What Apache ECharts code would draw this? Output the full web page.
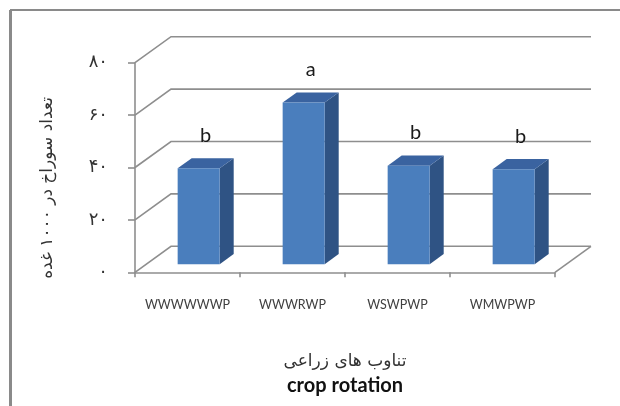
<!DOCTYPE html>
<html>
<head>
<meta charset="utf-8">
<script src="https://cdn.jsdelivr.net/npm/echarts@6/dist/echarts.min.js"></script>
<style>html,body{margin:0;padding:0;background:#fff}#c{width:620px;height:406px}</style>
</head>
<body>
<div id="c"></div>
<script>
const categories = ['WWWWWWP', 'WWWRWP', 'WSWPWP', 'WMWPWP'];
const values = [36.6, 61.7, 37.6, 36.3];
const letters = ['b', 'a', 'b', 'b'];
const yTicks = [0, 20, 40, 60, 80];
const yTickLabels = ['۰', '۲۰', '۴۰', '۶۰', '۸۰'];
const yTitle = 'تعداد سوراخ در ۱۰۰۰ غده';
const xTitleFa = 'تناوب های زراعی';
const xTitleEn = 'crop rotation';

// 3D look (style only)
const WALL_DX = 36, WALL_DY = 26;      // depth of the chart box
const BAR_FRONT = 0.31, BAR_BACK = 0.70; // bar depth position within box
const GRID_COLOR = '#8e8e8e';

const chart = echarts.init(document.getElementById('c'), null, {renderer: 'canvas'});

function wallsItem(params, api) {
  const cs = params.coordSys;
  const y = api.coord([0, api.value(1)])[1];
  const x0 = cs.x, x1 = cs.x + cs.width;
  const children = [{
    type: 'polyline',
    shape: {points: [[x0, y], [x0 + WALL_DX, y - WALL_DY], [x1 + WALL_DX, y - WALL_DY]]},
    style: {stroke: GRID_COLOR, lineWidth: 1.6, fill: null}
  }];
  if (api.value(1) === 0) {
    children.push({
      type: 'line',
      shape: {x1: x1, y1: y, x2: x1 + WALL_DX, y2: y - WALL_DY},
      style: {stroke: GRID_COLOR, lineWidth: 1.6}
    });
  }
  return {type: 'group', children: children};
}

function barItem(params, api) {
  const i = api.value(0);
  const v = api.value(1);
  const base = api.coord([i, 0]);
  const top = api.coord([i, v]);
  const w = api.size([1, 0])[0] * 0.4;
  const fx = WALL_DX * BAR_FRONT, fy = WALL_DY * BAR_FRONT;
  const dx = WALL_DX * (BAR_BACK - BAR_FRONT), dy = WALL_DY * (BAR_BACK - BAR_FRONT);
  const xL = base[0] - w / 2 + fx, xR = base[0] + w / 2 + fx;
  const yB = base[1] - fy, yT = top[1] - fy;
  return {
    type: 'group',
    children: [
      {type: 'polygon', shape: {points: [[xR, yT], [xR + dx, yT - dy], [xR + dx, yB - dy], [xR, yB]]},
        style: {fill: '#2f5384'}},
      {type: 'polygon', shape: {points: [[xL, yT], [xR, yT], [xR + dx, yT - dy], [xL + dx, yT - dy]]},
        style: {fill: '#3a63a0'}},
      {type: 'rect', shape: {x: xL, y: yT, width: xR - xL, height: yB - yT},
        style: {fill: '#4a7ebd'}},
      {type: 'text', x: (xL + xR) / 2 + dx / 2, y: yT - 33,
        style: {text: letters[params.dataIndex], fill: '#1a1a1a', font: '20px Lato',
          align: 'center', verticalAlign: 'middle'}}
    ]
  };
}

chart.setOption({
  animation: false,
  backgroundColor: '#ffffff',
  grid: {left: 135, right: 65, top: 62.7, bottom: 133.7},
  graphic: [
    {type: 'line', shape: {x1: 10, y1: 10, x2: 620, y2: 10}, style: {stroke: '#8a8a8a', lineWidth: 2}},
    {type: 'line', shape: {x1: 10.5, y1: 10, x2: 10.5, y2: 406}, style: {stroke: '#8a8a8a', lineWidth: 3}},
    {type: 'text', x: 48, y: 188, rotation: Math.PI / 2,
      style: {text: yTitle, font: '17px "DejaVu Sans"', fill: '#333', align: 'center', verticalAlign: 'middle'}},
    {type: 'text', x: 345, y: 362,
      style: {text: xTitleFa, font: '17px "DejaVu Sans"', fill: '#333', align: 'center', verticalAlign: 'middle'}},
    {type: 'text', x: 345, y: 386,
      style: {text: xTitleEn, font: 'bold 20px Lato', fill: '#111', align: 'center', verticalAlign: 'middle'}}
  ],
  xAxis: {
    type: 'category',
    data: categories,
    boundaryGap: true,
    axisLine: {show: true, lineStyle: {color: GRID_COLOR, width: 1.6}},
    axisTick: {show: true, length: 5, lineStyle: {color: GRID_COLOR, width: 1.6}},
    axisLabel: {color: '#404040', fontFamily: 'Lato', fontSize: 12.5, margin: 26, interval: 0},
    splitLine: {show: false}
  },
  yAxis: {
    type: 'value',
    min: 0, max: 80, interval: 20,
    axisLine: {show: true, lineStyle: {color: GRID_COLOR, width: 1.6}},
    axisTick: {show: true, length: 7, lineStyle: {color: GRID_COLOR, width: 1.6}},
    axisLabel: {
      color: '#333', fontFamily: 'DejaVu Sans', fontSize: 18, margin: 27,
      formatter: function (v) { return yTickLabels[yTicks.indexOf(v)]; }
    },
    splitLine: {show: false}
  },
  series: [
    {
      type: 'custom',
      renderItem: wallsItem,
      encode: {x: 0, y: 1},
      data: yTicks.map(function (t) { return [0, t]; }),
      clip: false,
      silent: true,
      z: 1
    },
    {
      type: 'custom',
      renderItem: barItem,
      encode: {x: 0, y: 1},
      data: values.map(function (v, i) { return [i, v]; }),
      clip: false,
      z: 5
    }
  ]
});
</script>
</body>
</html>
